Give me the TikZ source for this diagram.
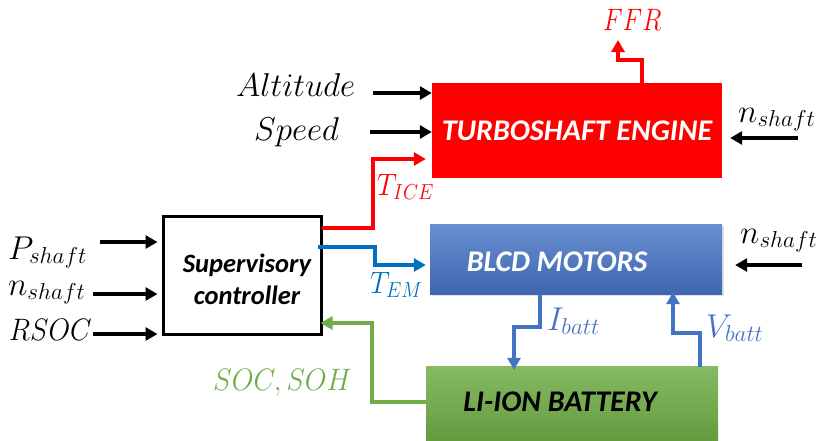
\documentclass[tikz,border=0pt]{standalone}
\usepackage{fix-cm}
\usepackage{fontspec}
\setmainfont{Carlito}
\usetikzlibrary{arrows.meta,shadows}
\definecolor{tred}{HTML}{FF0000}
\definecolor{emblue}{HTML}{0070C0}
\definecolor{bblue}{HTML}{4472C4}
\definecolor{bgreen}{HTML}{70AD47}
\newcommand{\narrowm}[2]{\scalebox{#1}[1]{$#2$}}
\begin{document}
\begin{tikzpicture}[x=1pt,y=-1pt,
  arr/.style={line width=4pt,-{Triangle[length=12pt,width=13pt]}},
  lbl/.style={font=\fontsize{33}{36}\selectfont, inner sep=0pt, anchor=base west},
  capslbl/.style={font=\fontsize{31}{34}\selectfont, inner sep=0pt, anchor=base west},
  boxtxt/.style={font=\fontsize{30}{34}\selectfont\bfseries\itshape, inner sep=0pt}]
\useasboundingbox (0,0) rectangle (818,440);

% boxes
\node[fill=tred, minimum width=290pt, minimum height=95pt, inner sep=0pt] (turbo) at (577,130.5) {};
\node[boxtxt, white] (turbotxt) at (577,131) {TURBOSHAFT ENGINE};

\node[top color=bblue!80!white, bottom color=bblue!90!black, minimum width=292pt, minimum height=70pt, inner sep=0pt,
      drop shadow={opacity=0.25, shadow xshift=2pt, shadow yshift=-2pt}] (blcd) at (576,259) {};
\node[boxtxt, white] (blcdtxt) at (557,262) {BLCD MOTORS};

\node[top color=bgreen!85!white, bottom color=bgreen!90!black, minimum width=292pt, minimum height=74pt, inner sep=0pt] (batt) at (572,403) {};
\node[boxtxt, black] (batttxt) at (560,402) {LI-ION BATTERY};

\node[draw=black, line width=3pt, fill=white, minimum width=158pt, minimum height=118pt, inner sep=0pt] (ctrl) at (242,275) {};
\node[font=\fontsize{26.5}{32}\selectfont\bfseries\itshape, align=center, inner sep=0pt] (ctrltxt) at (247,279) {Supervisory\\controller};

% labels
\node[capslbl, text=tred] (ffr) at (603,30) {\narrowm{0.82}{FFR}};
\node[lbl] (alt) at (236,96) {$Altitude$};
\node[lbl] (spd) at (254,140) {$Speed$};
\node[lbl] (ns1) at (738,122) {$n_{shaft}$};
\node[capslbl, text=tred] (tice) at (377,195) {\narrowm{0.9}{T_{ICE}}};
\node[lbl] (psh) at (8,259) {$P_{shaft}$};
\node[lbl] (ns2) at (8,295) {$n_{shaft}$};
\node[capslbl] (rsoc) at (9,340) {\narrowm{0.9}{RSOC}};
\node[capslbl, text=emblue] (tem) at (370,293) {\narrowm{0.9}{T_{EM}}};
\node[lbl] (ns3) at (740,243) {$n_{shaft}$};
\node[lbl, text=bblue] (ib) at (547,330) {$I_{batt}$};
\node[lbl, text=bblue] (vb) at (706,337) {$V_{batt}$};
\node[capslbl, text=bgreen] (soc) at (213,390) {\narrowm{0.91}{SOC,SOH}};

% coordinates
\coordinate (ffr1) at (642,83);
\coordinate (ffr2) at (642,60);
\coordinate (ffr3) at (618,60);
\coordinate (ffr4) at (618,40);
\coordinate (altS) at (373,93);
\coordinate (spdS) at (370,132);
\coordinate (ns1S) at (798,138);
\coordinate (ns3S) at (802,265);
\coordinate (ice1) at (322,228);
\coordinate (ice2) at (373,228);
\coordinate (ice3) at (373,159);
\coordinate (em1) at (318,247);
\coordinate (em2) at (375,247);
\coordinate (em3) at (375,265);
\coordinate (pS) at (100,242);
\coordinate (nS) at (93,294);
\coordinate (rS) at (93,334);
\coordinate (ib1) at (540,294);
\coordinate (ib2) at (540,327);
\coordinate (ib3) at (514,327);
\coordinate (vb1) at (700,367);
\coordinate (vb2) at (700,333);
\coordinate (vb3) at (673,333);
\coordinate (soc1) at (426,402);
\coordinate (soc2) at (372,402);
\coordinate (soc3) at (372,323);

% connectors
\draw[arr, tred] (ffr1) -- (ffr2) -- (ffr3) -- (ffr4);
\draw[arr] (altS) -- (altS -| turbo.west);
\draw[arr] (spdS) -- (spdS -| turbo.west);
\draw[arr] (ns1S) -- ([xshift=8pt]ns1S -| turbo.east);
\draw[arr] (ns3S) -- ([xshift=13pt]ns3S -| blcd.east);
\draw[arr, tred] (ice1) -- (ice2) -- (ice3) -- ([xshift=-6pt]ice3 -| turbo.west);
\draw[arr, emblue] (em1) -- (em2) -- (em3) -- ([xshift=-4pt]em3 -| blcd.west);
\draw[arr] (pS) -- ([xshift=-4pt]pS -| ctrl.west);
\draw[arr] (nS) -- ([xshift=-4pt]nS -| ctrl.west);
\draw[arr] (rS) -- ([xshift=-4pt]rS -| ctrl.west);
\draw[arr, bblue] (ib1) -- (ib2) -- (ib3) -- ([yshift=-4pt]ib3 |- batt.north);
\draw[arr, bblue] (vb1) -- (vb2) -- (vb3) -- ([yshift=2pt]vb3 |- blcd.south);
\draw[arr, bgreen] (soc1) -- (soc2) -- (soc3) -- ([xshift=-2pt]soc3 -| ctrl.east);
\end{tikzpicture}
\end{document}
